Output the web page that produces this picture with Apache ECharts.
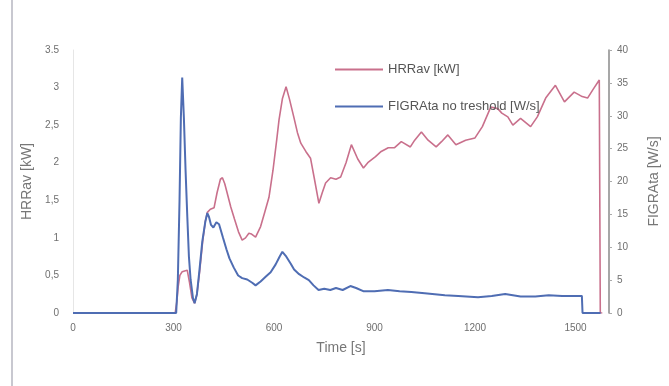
<!DOCTYPE html>
<html>
<head>
<meta charset="utf-8">
<title>HRRav / FIGRAta</title>
<script src="https://cdn.jsdelivr.net/npm/echarts@6/dist/echarts.min.js"></script>
<style>
  html, body { margin: 0; padding: 0; background: #fff; }
  #main { width: 669px; height: 386px; }
</style>
</head>
<body>
<div id="main"></div>
<script type="text/javascript">
// time [s], HRRav [kW]
var hrrTime = [0, 305, 310, 314, 319, 326, 333, 341, 348, 355, 363, 370, 378, 387, 395, 401, 410, 421, 430, 440,
  446, 453, 460, 471, 482, 494, 505, 515, 525, 533, 545, 560, 573, 585, 597, 608, 615, 625, 636, 646,
  659, 670, 680, 695, 709, 720, 734, 744, 754, 769, 785, 799, 815, 831, 850, 867, 880, 903, 920, 941,
  960, 980, 1007, 1020, 1040, 1060, 1084, 1100, 1119, 1143, 1172, 1200, 1222, 1247, 1268, 1280, 1298, 1313, 1336, 1366,
  1386, 1411, 1440, 1467, 1496, 1520, 1536, 1553, 1571, 1574, 1580];
var hrrValues = [0, 0, 0.15, 0.35, 0.5, 0.55, 0.56, 0.57, 0.4, 0.2, 0.13, 0.25, 0.55, 0.95, 1.22, 1.34, 1.38, 1.40, 1.6, 1.78,
  1.80, 1.72, 1.60, 1.41, 1.25, 1.08, 0.97, 1.0, 1.06, 1.05, 1.01, 1.15, 1.35, 1.54, 1.9, 2.3, 2.57, 2.85, 3.01, 2.85,
  2.61, 2.4, 2.26, 2.15, 2.06, 1.8, 1.46, 1.6, 1.73, 1.80, 1.78, 1.81, 2.0, 2.24, 2.05, 1.93, 2.0, 2.08, 2.15, 2.2,
  2.2, 2.28, 2.21, 2.3, 2.41, 2.3, 2.21, 2.28, 2.37, 2.24, 2.30, 2.33, 2.48, 2.74, 2.72, 2.66, 2.61, 2.50, 2.59, 2.48,
  2.61, 2.86, 3.03, 2.81, 2.94, 2.88, 2.86, 2.98, 3.10, 0, 0];

// time [s], FIGRAta [W/s]
var figraTime = [0, 308, 313, 318, 322, 326, 331, 336, 341, 346, 351, 358, 363, 370, 377, 386, 395, 401, 406, 412,
  419, 428, 436, 448, 458, 467, 480, 493, 505, 520, 535, 545, 560, 575, 590, 605, 617, 625, 635, 650,
  660, 675, 690, 704, 718, 733, 750, 768, 785, 805, 828, 845, 868, 900, 940, 975, 1010, 1050, 1110, 1150,
  1209, 1250, 1290, 1336, 1380, 1420, 1460, 1519, 1521, 1575];
var figraValues = [0, 0, 5.1, 17.1, 29.7, 35.8, 29.7, 21.7, 14.9, 8.6, 5.1, 2.3, 1.5, 2.9, 6.3, 10.9, 13.9, 15.2, 14.6, 13.4,
  13.0, 13.8, 13.5, 11.4, 9.7, 8.3, 6.9, 5.7, 5.3, 5.1, 4.6, 4.2, 4.8, 5.5, 6.2, 7.4, 8.6, 9.3, 8.7, 7.5,
  6.6, 5.9, 5.4, 5.0, 4.2, 3.5, 3.7, 3.5, 3.8, 3.5, 4.1, 3.8, 3.3, 3.3, 3.5, 3.3, 3.2, 3.0, 2.7, 2.6,
  2.4, 2.6, 2.9, 2.5, 2.5, 2.7, 2.6, 2.6, 0, 0];

function pairs(xs, ys) {
  return xs.map(function (x, i) { return [x, ys[i]]; });
}

var labelStyle = { color: '#6f6f6f', fontSize: 10, fontFamily: 'Liberation Sans' };
var nameStyle = { color: '#777', fontSize: 14, fontFamily: 'Liberation Sans' };

var myChart = echarts.init(document.getElementById('main'));
var option = {
  backgroundColor: '#fff',
  animation: false,
  grid: { left: 73, right: 58, top: 50, bottom: 73 },
  legend: {
    orient: 'vertical',
    left: 330,
    top: 58,
    icon: 'rect',
    itemWidth: 48,
    itemHeight: 2,
    itemGap: 24,
    textStyle: { color: '#555', fontSize: 13, fontFamily: 'Liberation Sans' },
    data: ['HRRav [kW]', 'FIGRAta no treshold [W/s]']
  },
  graphic: [{
    type: 'line',
    shape: { x1: 12, y1: 0, x2: 12, y2: 386 },
    style: { stroke: '#c8c8d0', lineWidth: 2 }
  }],
  xAxis: {
    type: 'value',
    min: 0,
    max: 1600,
    interval: 300,
    name: 'Time [s]',
    nameLocation: 'middle',
    nameGap: 28,
    nameTextStyle: nameStyle,
    axisLine: { show: false },
    axisTick: { show: false },
    splitLine: { show: false },
    axisLabel: Object.assign({
      showMaxLabel: false,
      margin: 10,
      formatter: function (v) { return String(v); }
    }, labelStyle)
  },
  yAxis: [{
    type: 'value',
    min: 0,
    max: 3.5,
    interval: 0.5,
    name: 'HRRav [kW]',
    nameLocation: 'middle',
    nameGap: 38,
    nameTextStyle: nameStyle,
    axisLine: { show: true, lineStyle: { color: '#e6e6e6' } },
    axisTick: { show: false },
    splitLine: { show: false },
    axisLabel: Object.assign({
      margin: 14,
      formatter: function (v) { return v === 3.5 ? '3.5' : String(v).replace('.', ','); }
    }, labelStyle)
  }, {
    type: 'value',
    min: 0,
    max: 40,
    interval: 5,
    position: 'right',
    name: 'FIGRAta [W/s]',
    nameLocation: 'middle',
    nameGap: 38,
    nameRotate: 90,
    nameTextStyle: nameStyle,
    axisLine: { show: true, lineStyle: { color: '#8a8a8a', width: 1.5 } },
    axisTick: { show: true, length: 3, inside: false, lineStyle: { color: '#aaa' } },
    splitLine: { show: false },
    axisLabel: Object.assign({ margin: 8 }, labelStyle)
  }],
  series: [{
    name: 'HRRav [kW]',
    type: 'line',
    yAxisIndex: 0,
    symbol: 'none',
    lineStyle: { color: '#c9708c', width: 1.6 },
    itemStyle: { color: '#c9708c' },
    data: pairs(hrrTime, hrrValues)
  }, {
    name: 'FIGRAta no treshold [W/s]',
    type: 'line',
    yAxisIndex: 1,
    symbol: 'none',
    lineStyle: { color: '#4f6db3', width: 2 },
    itemStyle: { color: '#4f6db3' },
    data: pairs(figraTime, figraValues)
  }]
};
myChart.setOption(option);
</script>
</body>
</html>
